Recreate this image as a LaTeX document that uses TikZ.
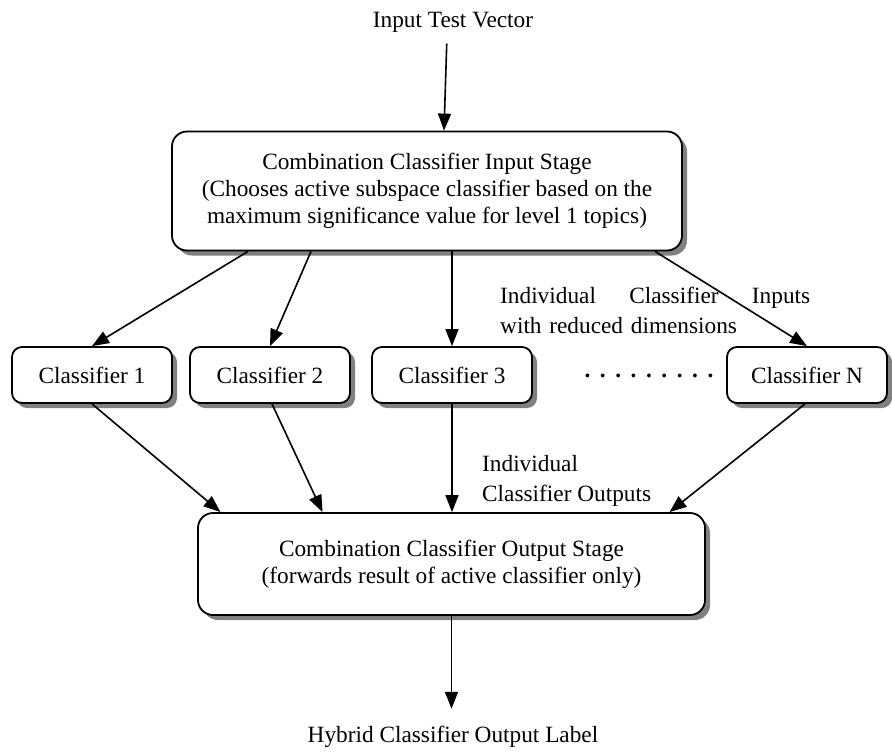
\documentclass[tikz,border=0pt]{standalone}
\usepackage{fontspec}
\setmainfont{Liberation Serif}
\usetikzlibrary{arrows.meta,positioning,shadows}

\begin{document}
\begin{tikzpicture}[x=1pt,y=-1pt,font=\fontsize{23.3}{27}\selectfont,
  box/.style={draw,line width=1.8pt,rounded corners=10pt,fill=white,align=center,
              drop shadow={shadow xshift=5pt,shadow yshift=-5pt,fill=black!50,opacity=1}},
  cls/.style={box,minimum width=160pt,minimum height=56pt,inner sep=2pt},
  stage/.style={box,rounded corners=15pt,inner sep=2pt},
  arr/.style={line width=1.6pt,-{Triangle[length=17pt,width=13pt]}},
  lbl/.style={align=left,inner sep=0pt}]
\useasboundingbox (0,0) rectangle (892,753);
\node (vec) at (453,22) {Input Test Vector};
\node[stage,minimum width=510pt,minimum height=119pt] (in) at (427,191)
  {Combination Classifier Input Stage\\(Chooses active subspace classifier based on the\\maximum significance value for level 1 topics)};
\node[cls] (c1) at (92,375) {Classifier 1};
\node[cls] (c2) at (270,375) {Classifier 2};
\node[cls] (c3) at (452,375) {Classifier 3};
\node[cls] (cN) at (807,375) {Classifier N};
\node[font=\fontsize{23.3}{27}\bfseries] (dots) at (649,376) {\spaceskip=7.6pt . . . . . . . . .};
\node[stage,minimum width=507pt,minimum height=102pt] (out) at (451.5,564)
  {Combination Classifier Output Stage\\(forwards result of active classifier only)};
\node (lab) at (453,737) {Hybrid Classifier Output Label};
\node[lbl,anchor=west,text width=310pt,font=\fontsize{23.3}{30}\selectfont] (inlbl) at (500,310)
  {\makebox[310pt][l]{Individual\hfill Classifier\hfill Inputs}\\with reduced dimensions};
\node[lbl,anchor=west,font=\fontsize{23.3}{30}\selectfont] (outlbl) at (482,481)
  {Individual\\Classifier Outputs};
% input side
\draw[arr,shorten <=8pt] ([xshift=-6pt]vec.south) -- ([xshift=17pt]in.north);
\draw[arr] ([xshift=-179pt]in.south) -- (c1.north);
\draw[arr] ([xshift=-116pt]in.south) -- (c2.north);
\draw[arr] (in.south -| c3.north) -- (c3.north);
\draw[arr] ([xshift=228pt]in.south) -- (cN.north);
% output side
\draw[arr] (c1.south) -- ([xshift=-231pt]out.north);
\draw[arr] ([xshift=2pt]c2.south) -- ([xshift=-129pt]out.north);
\draw[arr] (c3.south) -- (c3.south |- out.north);
\draw[arr] ([xshift=-2pt]cN.south) -- ([xshift=218pt]out.north);
\draw[arr,shorten >=14pt] (out.south) -- (out.south |- lab.north);
\end{tikzpicture}
\end{document}
